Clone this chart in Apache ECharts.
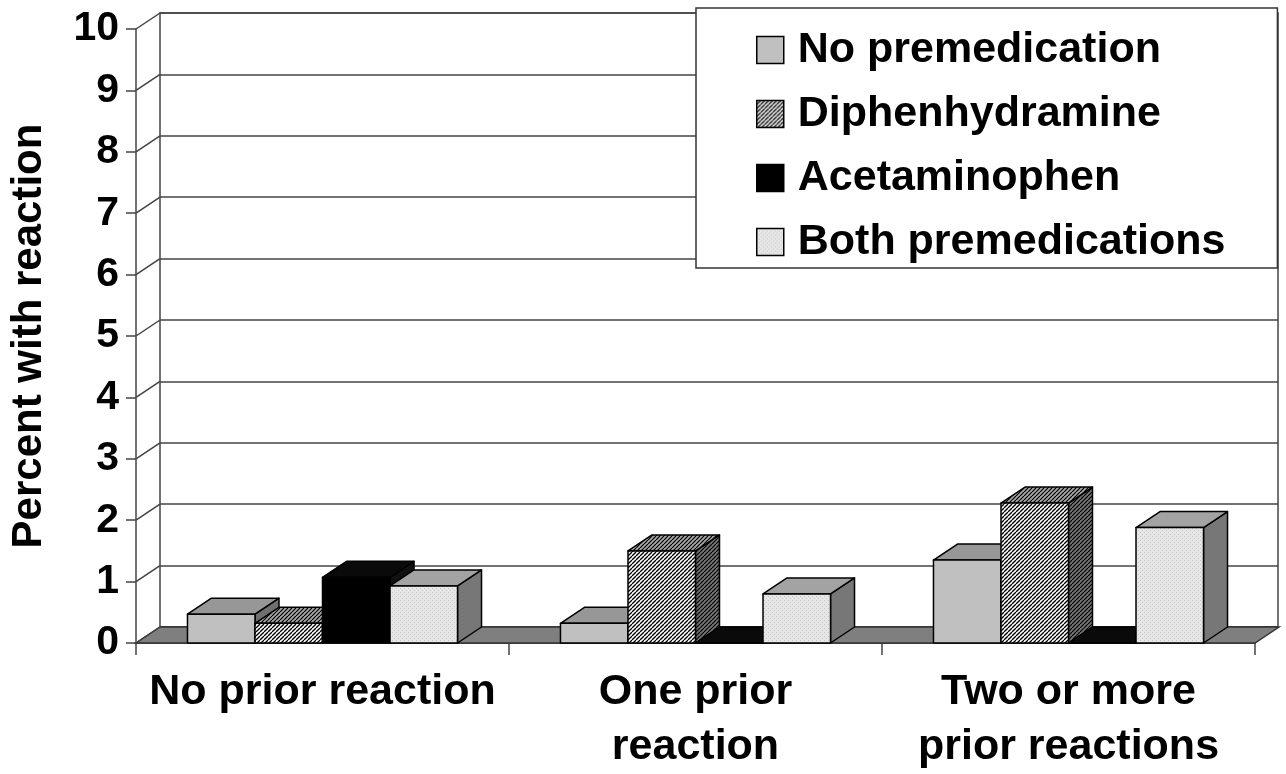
<!DOCTYPE html>
<html>
<head>
<meta charset="utf-8">
<script src="https://cdn.jsdelivr.net/npm/echarts@6/dist/echarts.min.js"></script>
<style>
html,body{margin:0;padding:0;background:#fff;}
#chart{width:1286px;height:774px;}
</style>
</head>
<body>
<div id="chart"></div>
<script>
// ---- data ----
const categories = ['No prior reaction', 'One prior\nreaction', 'Two or more\nprior reactions'];
const seriesNames = ['No premedication', 'Diphenhydramine', 'Acetaminophen', 'Both premedications'];
const noPremedication = [0.47, 0.32, 1.35];
const diphenhydramine = [0.32, 1.5, 2.28];
const acetaminophen = [1.07, 0, 0];
const bothPremedications = [0.93, 0.8, 1.88];
const yTicks = [0, 1, 2, 3, 4, 5, 6, 7, 8, 9, 10];

// ---- styling helpers ----
const FONT = '"Liberation Sans", Arial, sans-serif';
const DX = 24, DY = -16;       // depth offset of the 3D box
const BAR_FRAC = 0.181;        // bar width as fraction of band

function hatch(bg, fg, s, lw) {
  const c = document.createElement('canvas');
  c.width = s; c.height = s;
  const g = c.getContext('2d');
  g.fillStyle = bg; g.fillRect(0, 0, s, s);
  g.strokeStyle = fg; g.lineWidth = lw;
  for (const k of [-s, 0, s]) {
    g.beginPath(); g.moveTo(k, s); g.lineTo(k + s, 0); g.stroke();
  }
  return { image: c, repeat: 'repeat' };
}
function dots(bg, fg, s) {
  const c = document.createElement('canvas');
  c.width = s; c.height = s;
  const g = c.getContext('2d');
  g.fillStyle = bg; g.fillRect(0, 0, s, s);
  g.fillStyle = fg; g.fillRect(0, 0, 1, 1); g.fillRect(2, 2, 1, 1);
  return { image: c, repeat: 'repeat' };
}

const faceStyles = [
  { front: '#c0c0c0', top: '#979797', side: '#6f6f6f' },
  { front: hatch('#ffffff', '#000000', 4, 1.3), top: hatch('#a8a8a8', '#000000', 4, 1.2), side: hatch('#777777', '#000000', 4, 1.2) },
  { front: '#000000', top: '#0a0a0a', side: '#111111' },
  { front: dots('#e6e6e6', '#c8c8c8', 4), top: '#a3a3a3', side: '#777777' }
];
const seriesData = [noPremedication, diphenhydramine, acetaminophen, bothPremedications];

function barRenderer(k) {
  return function (params, api) {
    const i = api.value(0), v = api.value(1);
    const base = api.coord([i, 0]);
    const top = api.coord([i, v]);
    const bandW = api.size([1, 0])[0];
    const bw = bandW * BAR_FRAC;
    const x0 = base[0] - 2 * bw + k * bw, x1 = x0 + bw;
    const yb = base[1], yt = top[1];
    const fs = faceStyles[k];
    const stroke = { stroke: '#000', lineWidth: 1.5, lineJoin: 'round' };
    return {
      type: 'group',
      children: [
        { type: 'polygon', shape: { points: [[x1, yb], [x1 + DX, yb + DY], [x1 + DX, yt + DY], [x1, yt]] },
          style: Object.assign({ fill: fs.side }, stroke) },
        { type: 'polygon', shape: { points: [[x0, yt], [x1, yt], [x1 + DX, yt + DY], [x0 + DX, yt + DY]] },
          style: Object.assign({ fill: fs.top }, stroke) },
        { type: 'rect', shape: { x: x0, y: yt, width: bw, height: yb - yt },
          style: Object.assign({ fill: fs.front }, stroke) }
      ]
    };
  };
}

const chart = echarts.init(document.getElementById('chart'), null, { renderer: 'canvas' });

const series = [
  // floor
  {
    type: 'custom', xAxisIndex: 0, yAxisIndex: 0, silent: true, z: 1,
    data: [[0, 0]],
    renderItem: function (params, api) {
      const cs = params.coordSys;
      const y0 = api.coord([0, 0])[1];
      return {
        type: 'polygon',
        shape: { points: [[cs.x, y0], [cs.x + cs.width, y0], [cs.x + cs.width + DX, y0 + DY], [cs.x + DX, y0 + DY]] },
        style: { fill: '#7f7f7f', stroke: '#333', lineWidth: 1.5 }
      };
    }
  },
  // connectors from front axis ticks to back wall
  {
    type: 'custom', xAxisIndex: 0, yAxisIndex: 0, silent: true, z: 1,
    data: yTicks.map(v => [0, v]),
    renderItem: function (params, api) {
      const cs = params.coordSys;
      const y = api.coord([0, api.value(1)])[1];
      return {
        type: 'line',
        shape: { x1: cs.x, y1: y, x2: cs.x + DX, y2: y + DY },
        style: { stroke: '#444', lineWidth: 1.5 }
      };
    }
  }
];
seriesNames.forEach((name, k) => {
  series.push({
    type: 'custom', name: name, xAxisIndex: 0, yAxisIndex: 0, z: 3 + k,
    itemStyle: { color: faceStyles[k].front, borderColor: '#000', borderWidth: 1.5 },
    encode: { x: 0, y: 1 },
    data: seriesData[k].map((v, i) => [i, v]),
    renderItem: barRenderer(k)
  });
});

const option = {
  animation: false,
  backgroundColor: '#fff',
  textStyle: { fontFamily: FONT },
  grid: [
    { left: 136, right: 31, top: 29, bottom: 131, outerBoundsMode: 'none', containLabel: false },
    { left: 160, right: 8, top: 13, bottom: 147, outerBoundsMode: 'none', containLabel: false,
      show: true, borderColor: '#444', borderWidth: 1.5, backgroundColor: '#fff', z: 0 }
  ],
  xAxis: [
    {
      type: 'category', gridIndex: 0, data: categories,
      axisLine: { lineStyle: { color: '#222', width: 1.5 } },
      axisTick: { show: true, interval: 0, length: 12, lineStyle: { color: '#444', width: 1.5 } },
      axisLabel: { interval: 0, hideOverlap: false, color: '#000', fontFamily: FONT, fontWeight: 'bold', fontSize: 43, lineHeight: 55, margin: 22 }
    },
    { type: 'value', gridIndex: 1, min: 0, max: 1, show: false }
  ],
  yAxis: [
    {
      type: 'value', gridIndex: 0, min: 0, max: 10, interval: 1,
      name: 'Percent with reaction', nameLocation: 'middle', nameRotate: 90, nameGap: 86,
      nameTextStyle: { color: '#000', fontFamily: FONT, fontWeight: 'bold', fontSize: 42 },
      axisLine: { show: true, lineStyle: { color: '#444', width: 1.5 } },
      axisTick: { show: true, length: 10, lineStyle: { color: '#444', width: 1.5 } },
      axisLabel: { color: '#000', fontFamily: FONT, fontWeight: 'bold', fontSize: 41, margin: 17 },
      splitLine: { show: false }
    },
    {
      type: 'value', gridIndex: 1, min: 0, max: 10, interval: 1,
      axisLine: { show: false }, axisTick: { show: false }, axisLabel: { show: false },
      splitLine: { show: true, lineStyle: { color: '#444', width: 1.5 } }
    }
  ],
  legend: {
    data: seriesNames,
    orient: 'vertical',
    left: 696, top: 8,
    padding: [19, 52, 3, 60],
    backgroundColor: '#fff',
    borderColor: '#333', borderWidth: 1.5,
    icon: 'rect',
    itemWidth: 27, itemHeight: 27, itemGap: 18,
    itemStyle: { borderColor: '#000', borderWidth: 1.5 },
    textStyle: { color: '#000', fontFamily: FONT, fontWeight: 'bold', fontSize: 43, lineHeight: 46, padding: [0, 0, 0, 9] }
  },
  series: series
};
chart.setOption(option);
</script>
</body>
</html>
